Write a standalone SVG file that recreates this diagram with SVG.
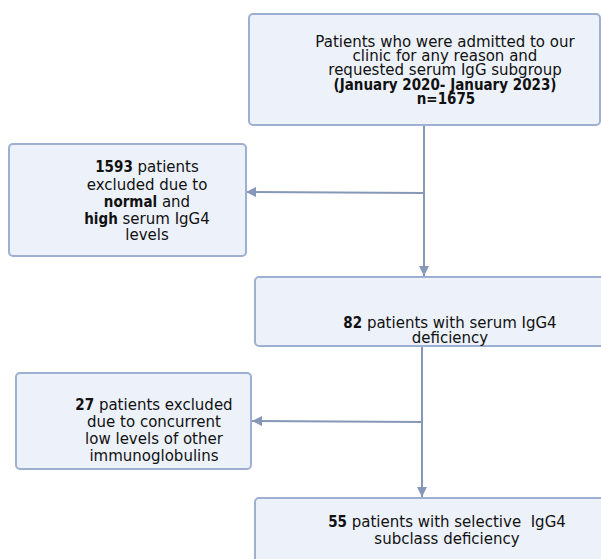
<svg xmlns="http://www.w3.org/2000/svg" width="601" height="559" viewBox="0 0 601 559">
<defs>
<marker id="ah" viewBox="0 0 10 10" refX="10" refY="5" markerWidth="10" markerHeight="10" markerUnits="userSpaceOnUse" orient="auto">
<path d="M0,0 L10,5 L0,10 z" fill="#8797b8"/>
</marker>
<style>
.box{fill:#edf2fa;stroke:#9eb0d2;stroke-width:2}
.t{font-family:"DejaVu Sans",sans-serif;font-size:15px;fill:#111;text-anchor:middle}
.b{font-family:"DejaVu Sans Condensed","DejaVu Sans",sans-serif;font-weight:bold}
.c{fill:none;stroke:#8797b8;stroke-width:2}
</style>
</defs>
<rect width="601" height="559" fill="#ffffff"/>
<g id="connectors">
<line class="c" x1="424" y1="126" x2="424" y2="276" marker-end="url(#ah)"/>
<line class="c" x1="424" y1="193" x2="246" y2="192" marker-end="url(#ah)"/>
<line class="c" x1="422" y1="346" x2="422" y2="497" marker-end="url(#ah)"/>
<line class="c" x1="422" y1="422" x2="252" y2="421" marker-end="url(#ah)"/>
</g>
<g id="n1">
<rect class="box" x="249" y="14" width="351" height="111" rx="4"/>
<text class="t" x="445" y="47">Patients who were admitted to our</text>
<text class="t" x="445" y="61">clinic for any reason and</text>
<text class="t" x="445" y="75">requested serum IgG subgroup</text>
<text class="t b" x="445" y="90">(January 2020- January 2023)</text>
<text class="t b" x="446" y="104">n=1675</text>
</g>
<g id="n2">
<rect class="box" x="9" y="144" width="237" height="112" rx="4"/>
<text class="t" x="147" y="172"><tspan class="b">1593</tspan> patients</text>
<text class="t" x="147" y="189.5">excluded due to</text>
<text class="t" x="147" y="207"><tspan class="b">normal</tspan> and</text>
<text class="t" x="147" y="224"><tspan class="b">high</tspan> serum IgG4</text>
<text class="t" x="147" y="240">levels</text>
</g>
<g id="n3">
<rect class="box" x="255" y="277" width="352" height="69" rx="4"/>
<text class="t" x="450" y="328"><tspan class="b">82</tspan> patients with serum IgG4</text>
<text class="t" x="450" y="342.5">deficiency</text>
</g>
<g id="n4">
<rect class="box" x="16" y="373" width="235" height="96" rx="4"/>
<text class="t" x="154" y="410"><tspan class="b">27</tspan> patients excluded</text>
<text class="t" x="154" y="427">due to concurrent</text>
<text class="t" x="154" y="444">low levels of other</text>
<text class="t" x="154" y="461">immunoglobulins</text>
</g>
<g id="n5">
<rect class="box" x="255" y="498" width="352" height="80" rx="4"/>
<text class="t" x="447" y="527" xml:space="preserve"><tspan class="b">55</tspan> patients with selective  IgG4</text>
<text class="t" x="447" y="544">subclass deficiency</text>
</g>
</svg>
